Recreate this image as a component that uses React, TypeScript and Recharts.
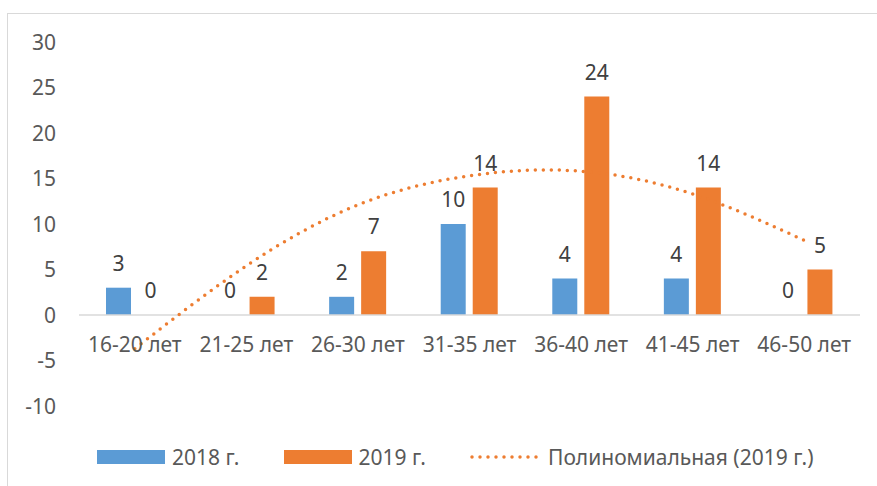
import React from 'react';
import { ComposedChart, Bar, Line, XAxis, YAxis, ReferenceLine, LabelList } from 'recharts';

const categories = ['16-20 лет', '21-25 лет', '26-30 лет', '31-35 лет', '36-40 лет', '41-45 лет', '46-50 лет'];
const values2018 = [3, 0, 2, 10, 4, 4, 0];
const values2019 = [0, 2, 7, 14, 24, 14, 5];
const trend2019 = [-3.7, 5.4, 12.1, 15.3, 15.8, 13.3, 8.2];
const yTicks = [-10, -5, 0, 5, 10, 15, 20, 25, 30];
const seriesNames = ['2018 г.', '2019 г.', 'Полиномиальная (2019 г.)'];

const data = categories.map((c, i) => ({
  cat: c,
  v2018: values2018[i],
  v2019: values2019[i],
  trend: trend2019[i],
}));

const W = 877;
const H = 486;
const M_TOP = 42;
const M_BOTTOM = 50;
const X_AXIS_H = 30;
const M_RIGHT = 17;
const Y_AXIS_W = 79;
const Y_MIN = -10;
const Y_MAX = 30;
const PLOT_H = H - M_TOP - M_BOTTOM - X_AXIS_H;
const ZERO_Y = M_TOP + (PLOT_H * (Y_MAX - 0)) / (Y_MAX - Y_MIN);

const FONT = '"Noto Sans", sans-serif';
const FS = 21;
const BLUE = '#5B9BD5';
const ORANGE = '#ED7D31';
const TEXT = '#595959';

const XTick = (props: any) => {
  const { x, payload } = props;
  return (
    <text x={x} y={ZERO_Y + 37} textAnchor="middle" fill={TEXT} fontSize={FS} fontFamily={FONT}>
      {payload.value}
    </text>
  );
};

const YTick = (props: any) => {
  const { y, payload } = props;
  return (
    <text x={56} y={y} dy="0.36em" textAnchor="end" fill={TEXT} fontSize={FS} fontFamily={FONT}>
      {payload.value}
    </text>
  );
};

const BarValue = (props: any) => {
  const { x, y, width, height, value } = props;
  if (x == null || y == null) return null;
  const top = Math.min(Number(y), Number(y) + Number(height || 0));
  return (
    <text x={Number(x) + Number(width) / 2} y={top - 17} textAnchor="middle" fill="#404040" fontSize={FS} fontFamily={FONT}>
      {value}
    </text>
  );
};

const minSize = (v: any) => (v === 0 ? 0.01 : 0);

export default function App() {
  return (
    <div style={{ position: 'fixed', left: 0, top: 0, width: W, height: H, overflow: 'hidden', background: '#fff' }}>
      <div
        style={{
          position: 'absolute',
          left: 7,
          top: 13,
          width: 900,
          height: 500,
          border: '1px solid #d9d9d9',
          boxSizing: 'border-box',
        }}
      />
      <div style={{ position: 'absolute', left: 0, top: 0 }}>
        <ComposedChart
          width={W}
          height={H}
          data={data}
          margin={{ top: M_TOP, right: M_RIGHT, bottom: M_BOTTOM, left: 0 }}
          barGap={7}
          barCategoryGap={27}
        >
          <XAxis dataKey="cat" height={X_AXIS_H} axisLine={false} tickLine={false} tick={<XTick />} interval={0} />
          <YAxis
            width={Y_AXIS_W}
            domain={[Y_MIN, Y_MAX]}
            ticks={yTicks}
            axisLine={false}
            tickLine={false}
            tick={<YTick />}
            interval={0}
          />
          <Bar dataKey="v2018" name={seriesNames[0]} fill={BLUE} barSize={25} minPointSize={minSize} isAnimationActive={false}>
            <LabelList dataKey="v2018" content={<BarValue />} />
          </Bar>
          <Bar dataKey="v2019" name={seriesNames[1]} fill={ORANGE} barSize={25} minPointSize={minSize} isAnimationActive={false}>
            <LabelList dataKey="v2019" content={<BarValue />} />
          </Bar>
          <ReferenceLine y={0} stroke="#d9d9d9" strokeWidth={1.5} />
          <Line
            dataKey="trend"
            name={seriesNames[2]}
            type="natural"
            stroke={ORANGE}
            strokeWidth={3.5}
            strokeDasharray="0 8"
            strokeLinecap="round"
            dot={false}
            activeDot={false}
            isAnimationActive={false}
          />
        </ComposedChart>
      </div>
      <div
        style={{
          position: 'absolute',
          left: 97,
          top: 445,
          display: 'flex',
          alignItems: 'center',
          gap: 44,
          fontFamily: FONT,
          fontSize: FS,
          color: TEXT,
          lineHeight: '24px',
          whiteSpace: 'nowrap',
        }}
      >
        <div style={{ display: 'flex', alignItems: 'center', gap: 7 }}>
          <div style={{ width: 68, height: 14, background: BLUE }} />
          <span>{seriesNames[0]}</span>
        </div>
        <div style={{ display: 'flex', alignItems: 'center', gap: 7 }}>
          <div style={{ width: 68, height: 14, background: ORANGE }} />
          <span>{seriesNames[1]}</span>
        </div>
        <div style={{ display: 'flex', alignItems: 'center', gap: 8 }}>
          <svg width={70} height={14}>
            <line x1={2} y1={7} x2={68} y2={7} stroke={ORANGE} strokeWidth={3.5} strokeDasharray="0 8" strokeLinecap="round" />
          </svg>
          <span>{seriesNames[2]}</span>
        </div>
      </div>
    </div>
  );
}
